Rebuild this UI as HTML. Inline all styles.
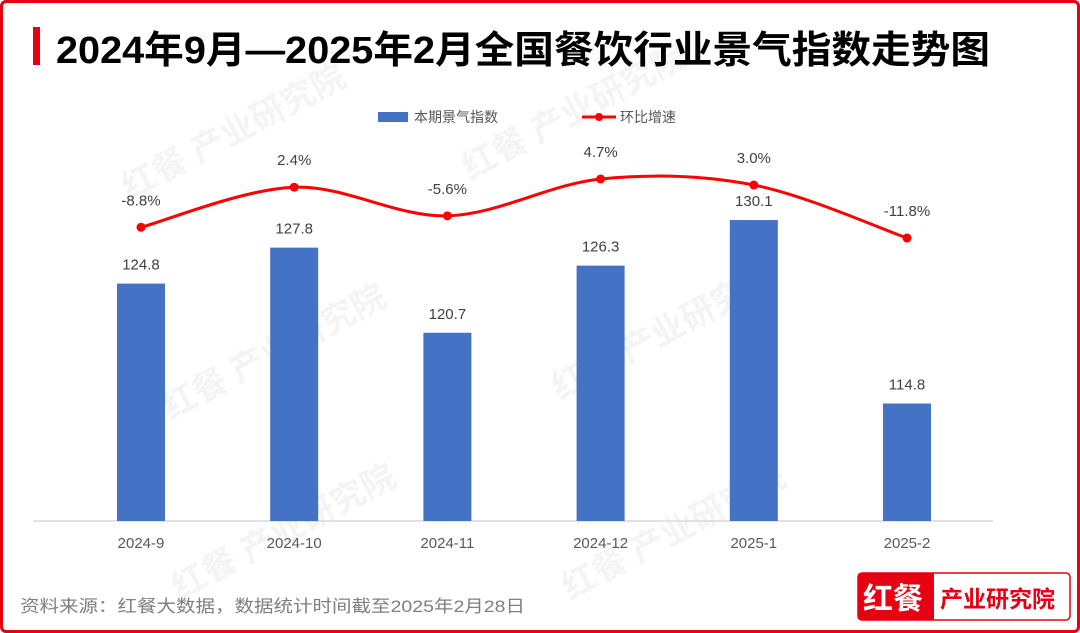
<!DOCTYPE html>
<html><head><meta charset="utf-8">
<style>
body{margin:0;width:1080px;height:633px;overflow:hidden;background:#fff;font-family:"Liberation Sans","Noto Sans CJK SC",sans-serif;}
#frame{position:absolute;left:0;top:0;width:1074px;height:627px;border:3px solid #e60012;border-radius:6px;}
</style></head><body>
<div id="frame"></div>
<svg width="1080" height="633" style="position:absolute;left:0;top:0" id="chart">
<g fill="#000" opacity="0.045" font-size="34" font-weight="bold">
<text x="130" y="200" transform="rotate(-28 130 200)">红餐 产业研究院</text>
<text x="470" y="180" transform="rotate(-28 470 180)">红餐 产业研究院</text>
<text x="170" y="420" transform="rotate(-28 170 420)">红餐 产业研究院</text>
<text x="560" y="400" transform="rotate(-28 560 400)">红餐 产业研究院</text>
<text x="180" y="600" transform="rotate(-28 180 600)">红餐 产业研究院</text>
<text x="570" y="600" transform="rotate(-28 570 600)">红餐 产业研究院</text>
</g>
<rect x="33" y="27" width="7" height="38" fill="#e60012"/>
<text x="56" y="63" font-size="38" font-weight="bold" fill="#000" textLength="934" lengthAdjust="spacingAndGlyphs">2024年9月—2025年2月全国餐饮行业景气指数走势图</text>
<g font-size="14" fill="#555">
<g><rect x="378" y="112" width="30" height="10" fill="#4472c4"/><text x="414" y="122">本期景气指数</text></g>
<g><line x1="582" y1="117" x2="616" y2="117" stroke="#f00" stroke-width="3"/><circle cx="599" cy="117" r="4" fill="#f00"/><text x="620" y="122">环比增速</text></g>
</g>
<line x1="33" y1="521" x2="993" y2="521" stroke="#d9d9d9" stroke-width="1.5"/>
<g id="bars"></g><g id="line"></g><g id="labels"></g>
<text x="20" y="612" font-size="17" fill="#7f7f7f" textLength="505" lengthAdjust="spacingAndGlyphs">资料来源：红餐大数据，数据统计时间截至2025年2月28日</text>
<g>
<rect x="858" y="573" width="212" height="47" rx="4" fill="#fff" stroke="#e60012" stroke-width="1.5"/>
<path d="M862 573 H934 V620 H862 a4 4 0 0 1 -4 -4 V577 a4 4 0 0 1 4 -4z" fill="#e60012"/>
<text x="863" y="609" font-size="30" font-weight="bold" fill="#fff">红餐</text>
<text x="940" y="607" font-size="23" font-weight="bold" fill="#e60012">产业研究院</text>
</g>
</svg>
<script>
const categories=["2024-9","2024-10","2024-11","2024-12","2025-1","2025-2"];
const indexValues=[124.8,127.8,120.7,126.3,130.1,114.8];
const growthValues=[-8.8,2.4,-5.6,4.7,3.0,-11.8];
const growthLabels=["-8.8%","2.4%","-5.6%","4.7%","3.0%","-11.8%"];
const NS="http://www.w3.org/2000/svg";
function xPos(i){return 141+i*153.2;}
function yBar(v){return 521-(v-105)*11.99;}
function yLine(v){return 195.8-v*3.58;}
function mk(tag,attrs,parent){const e=document.createElementNS(NS,tag);for(const k in attrs)e.setAttribute(k,attrs[k]);document.getElementById(parent).appendChild(e);return e;}
const pts=[];
categories.forEach((c,i)=>{
  const x=xPos(i),y=yBar(indexValues[i]);
  const b=mk('rect',{x:x-24,y:y,width:48,height:521-y,fill:'#4472c4'},'bars');
  
  
  const t=mk('text',{x:x,y:y-14,'text-anchor':'middle','font-size':15,fill:'#404040'},'labels');t.textContent=indexValues[i].toFixed(1);
  
  
  const xl=mk('text',{x:x,y:548,'text-anchor':'middle','font-size':15,fill:'#595959'},'labels');xl.textContent=c;
  
  
  const ly=yLine(growthValues[i]);pts.push([x,ly]);
  const gl=mk('text',{x:x,y:ly-22,'text-anchor':'middle','font-size':15,fill:'#404040'},'labels');gl.textContent=growthLabels[i];
  
  
});
let d='M'+pts[0][0]+' '+pts[0][1];
for(let i=0;i<pts.length-1;i++){
  const p0=pts[Math.max(0,i-1)],p1=pts[i],p2=pts[i+1],p3=pts[Math.min(pts.length-1,i+2)];
  const c1=[p1[0]+(p2[0]-p0[0])/6,p1[1]+(p2[1]-p0[1])/6],c2=[p2[0]-(p3[0]-p1[0])/6,p2[1]-(p3[1]-p1[1])/6];
  d+=` C${c1[0]} ${c1[1]} ${c2[0]} ${c2[1]} ${p2[0]} ${p2[1]}`;
}
const ln=mk('path',{d:d,fill:'none',stroke:'#f00','stroke-width':3},'line');


pts.forEach(p=>{const c=mk('circle',{cx:p[0],cy:p[1],r:4.5,fill:'#f00'},'line');

});
</script>
</body></html>
